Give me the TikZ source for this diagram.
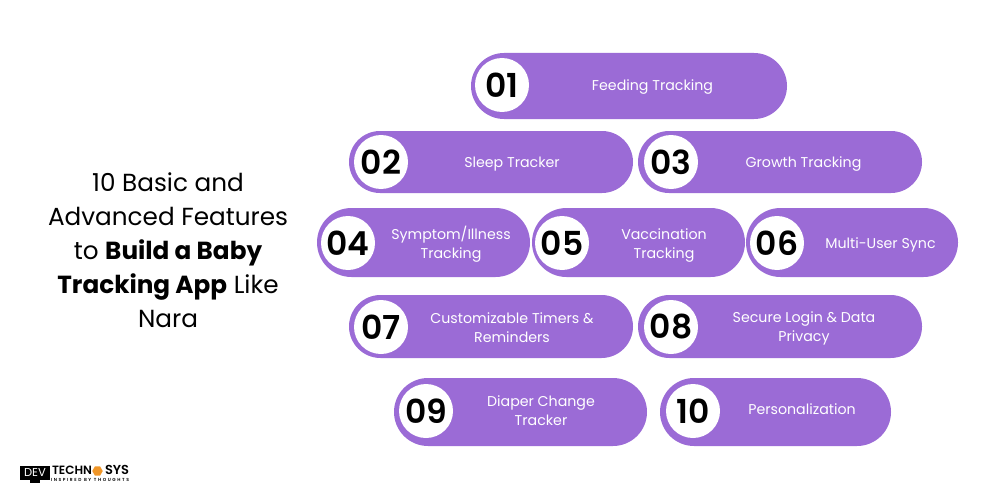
\documentclass[tikz,border=0pt]{standalone}
\usepackage{fontspec}
\setmainfont{Poppins}
\newfontfamily\badgefont{Poppins SemiBold}
\newfontfamily\spacedfont[LetterSpace=36]{Poppins SemiBold}
\usetikzlibrary{positioning}
\usetikzlibrary{shapes.misc,shapes.geometric}
\definecolor{pillviolet}{RGB}{155,107,214}
\definecolor{logoorange}{RGB}{240,150,40}
\begin{document}
\begin{tikzpicture}[x=1pt, y=-1pt, inner sep=0pt, outer sep=0pt]
\tikzstyle{pill}=[rounded rectangle, fill=pillviolet, minimum height=62pt]
\tikzstyle{badge}=[circle, fill=white, minimum size=54pt, font=\fontsize{33}{33}\badgefont, text=black]
\tikzstyle{caption}=[align=center, text=white, font=\fontsize{14.2}{19}\selectfont]
\useasboundingbox (0,0) rectangle (1000,500);

\node[align=center, font=\fontsize{24.7}{34}\selectfont] (title) at (168,250.5)
{10 Basic and\\Advanced Features\\to \textbf{Build a Baby}\\\textbf{Tracking App} Like\\Nara};

\node[pill, minimum width=316pt, minimum height=66pt] (p1) at (629,86) {};
\node[pill, minimum width=284pt] (p2) at (491,162) {};
\node[pill, minimum width=284pt] (p3) at (780,162) {};
\node[pill, minimum width=213pt, minimum height=69pt] (p4) at (423.5,242.5) {};
\node[pill, minimum width=213pt, minimum height=69pt] (p5) at (638.5,242.5) {};
\node[pill, minimum width=212pt, minimum height=69pt] (p6) at (852,242.5) {};
\node[pill, minimum width=284pt, minimum height=63pt] (p7) at (491,326.5) {};
\node[pill, minimum width=284pt, minimum height=63pt] (p8) at (780,326.5) {};
\node[pill, minimum width=253pt, minimum height=68pt] (p9) at (520.5,412) {};
\node[pill, minimum width=231pt, minimum height=68pt] (p10) at (775.5,412) {};

\node[badge] (b1) at (502,85) {01};
\node[badge] (b2) at (381,162) {02};
\node[badge] (b3) at (671,162) {03};
\node[badge] (b4) at (348,243) {04};
\node[badge] (b5) at (562,243) {05};
\node[badge] (b6) at (777,243) {06};
\node[badge] (b7) at (381,327) {07};
\node[badge] (b8) at (671,327) {08};
\node[badge] (b9) at (426,411) {09};
\node[badge] (b10) at (693,411) {10};

\node[caption] (c1) at (652.5,87) {Feeding Tracking};
\node[caption] (c2) at (512,164.5) {Sleep Tracker};
\node[caption] (c3) at (803.5,164.5) {Growth Tracking};
\node[caption] (c4) at (451,244) {Symptom/Illness\\Tracking};
\node[caption] (c5) at (664,246) {Vaccination\\Tracking};
\node[caption] (c6) at (880.5,245) {Multi-User Sync};
\node[caption] (c7) at (512,328) {Customizable Timers \&\\Reminders};
\node[caption] (c8) at (804,328.5) {Secure Login \& Data\\Privacy};
\node[caption] (c9) at (541,411) {Diaper Change\\Tracker};
\node[caption] (c10) at (802,409.5) {Personalization};

% logo
\node[fill=black, minimum width=30pt, minimum height=13.5pt, text=white, font=\fontsize{11.5}{11.5}\selectfont] (devbox) at (35,472.75) {DEV};
\node[fill=black, minimum width=10pt, minimum height=2.5pt, below=0.8pt of devbox] (devstand) {};
\node[font=\fontsize{12}{12}\badgefont, anchor=west] (techn) at (52,470.5) {TECHN};
\node[regular polygon, regular polygon sides=6, fill=logoorange, minimum size=10.5pt] (hex) at (97.5,471) {};
\node[font=\fontsize{13}{13}\badgefont, anchor=west] (sys) at (105,470) {SYS};
\node[font=\fontsize{4.4}{4.4}\spacedfont, anchor=west] (slogan) at (51,479.8) {INSPIRED BY THOUGHTS};
\end{tikzpicture}
\end{document}
